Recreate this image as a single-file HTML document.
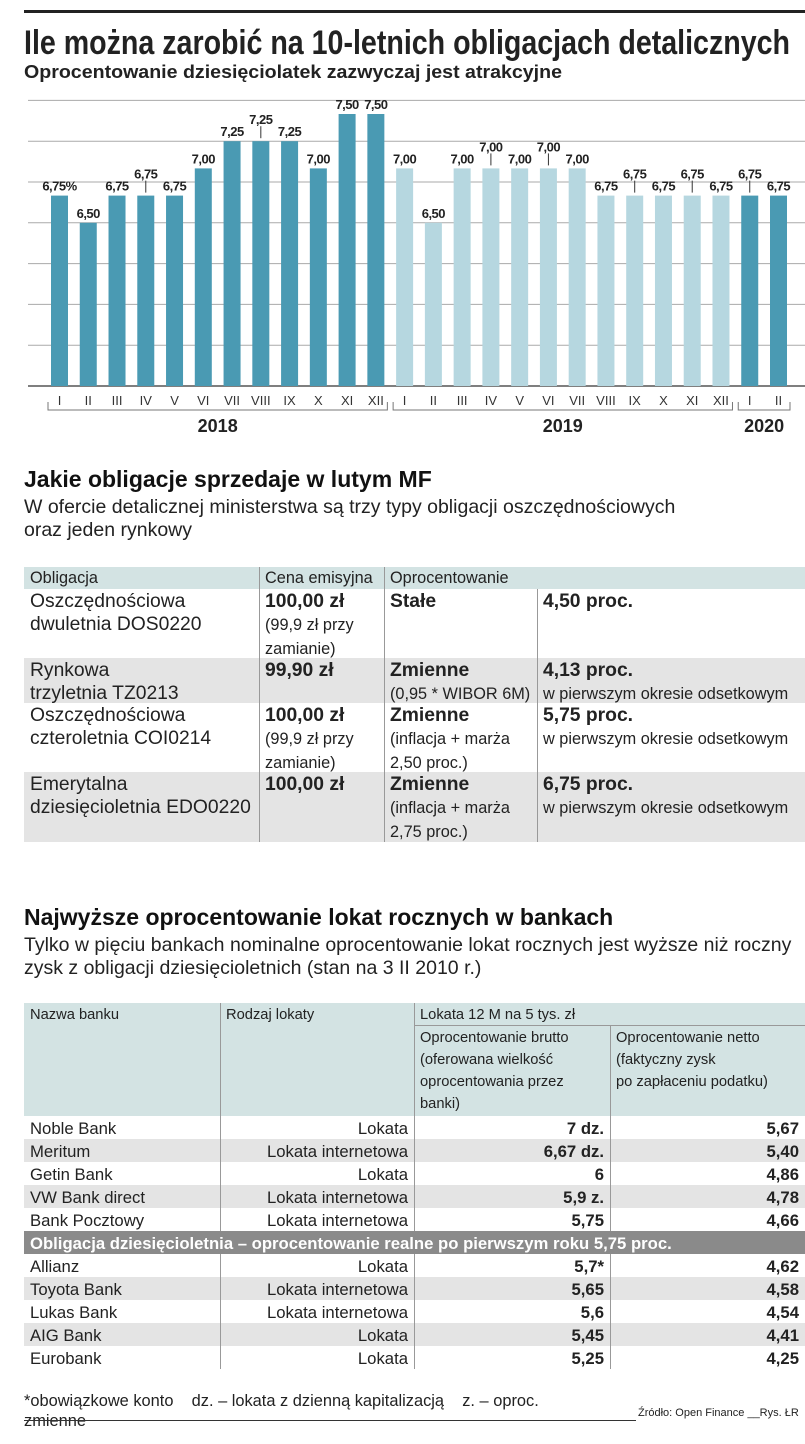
<!DOCTYPE html>
<html><head><meta charset="utf-8">
<style>
body{margin:0;background:#fff;width:805px;height:1444px;position:relative;overflow:hidden;font-family:"Liberation Sans Narrow","Liberation Sans",sans-serif;color:#222}
.a{position:absolute;white-space:nowrap}
.h{font-weight:bold;font-size:23px;color:#111}
.s{font-size:19.5px;line-height:23px}
.cell{position:absolute;box-sizing:border-box;padding:1px 6px;font-size:19.3px;line-height:23px;overflow:hidden;white-space:nowrap}
.t2 .cell{font-size:16.7px;line-height:23px}
.b{font-weight:bold}
.sm{font-size:16.3px}
.t2 .sm{font-size:14.7px}
.vl{position:absolute;width:1px;background:#999}
</style></head><body>
<svg id="chart" width="805" height="445" style="position:absolute;left:0;top:0" xmlns="http://www.w3.org/2000/svg">
<rect x="24" y="10" width="781" height="3" fill="#222"/>
<text x="24" y="54" font-size="34" font-weight="bold" fill="#222" textLength="766" lengthAdjust="spacingAndGlyphs" font-family="Liberation Sans Narrow, Liberation Sans, sans-serif">Ile można zarobić na 10-letnich obligacjach detalicznych</text>
<text x="24" y="78" font-size="18" font-weight="bold" fill="#222" textLength="538" lengthAdjust="spacingAndGlyphs" font-family="Liberation Sans Narrow, Liberation Sans, sans-serif">Oprocentowanie dziesięciolatek zazwyczaj jest atrakcyjne</text>
<g id="grid"></g><g id="bars"></g><g id="xaxis"></g>
</svg>

<div class="a h" style="left:24px;top:466px">Jakie obligacje sprzedaje w lutym MF</div>
<div class="a s" style="left:24px;top:496px">W ofercie detalicznej ministerstwa są trzy typy obligacji oszczędnościowych<br>oraz jeden rynkowy</div>

<div>
<div class="a" style="left:24px;top:567px;width:781px;height:22px;background:#d3e3e3"></div>
<div class="a" style="left:24px;top:658px;width:781px;height:45px;background:#e4e4e4"></div>
<div class="a" style="left:24px;top:772px;width:781px;height:70px;background:#e4e4e4"></div>
<div class="vl" style="left:259px;top:567px;height:275px"></div>
<div class="vl" style="left:384px;top:567px;height:275px"></div>
<div class="vl" style="left:537px;top:589px;height:253px"></div>
<div class="cell sm" style="left:24px;top:567px;line-height:21px">Obligacja</div>
<div class="cell sm" style="left:259px;top:567px;line-height:21px">Cena emisyjna</div>
<div class="cell sm" style="left:384px;top:567px;line-height:21px">Oprocentowanie</div>

<div class="cell" style="left:24px;top:589px">Oszczędnościowa<br>dwuletnia DOS0220</div>
<div class="cell" style="left:259px;top:589px"><span class="b">100,00 zł</span><br><span class="sm">(99,9 zł przy<br>zamianie)</span></div>
<div class="cell b" style="left:384px;top:589px">Stałe</div>
<div class="cell b" style="left:537px;top:589px">4,50 proc.</div>

<div class="cell" style="left:24px;top:658px">Rynkowa<br>trzyletnia TZ0213</div>
<div class="cell b" style="left:259px;top:658px">99,90 zł</div>
<div class="cell" style="left:384px;top:658px"><span class="b">Zmienne</span><br><span class="sm">(0,95 * WIBOR 6M)</span></div>
<div class="cell" style="left:537px;top:658px"><span class="b">4,13 proc.</span><br><span class="sm">w pierwszym okresie odsetkowym</span></div>

<div class="cell" style="left:24px;top:703px">Oszczędnościowa<br>czteroletnia COI0214</div>
<div class="cell" style="left:259px;top:703px"><span class="b">100,00 zł</span><br><span class="sm">(99,9 zł przy<br>zamianie)</span></div>
<div class="cell" style="left:384px;top:703px"><span class="b">Zmienne</span><br><span class="sm">(inflacja + marża<br>2,50 proc.)</span></div>
<div class="cell" style="left:537px;top:703px"><span class="b">5,75 proc.</span><br><span class="sm">w pierwszym okresie odsetkowym</span></div>

<div class="cell" style="left:24px;top:772px">Emerytalna<br>dziesięcioletnia EDO0220</div>
<div class="cell b" style="left:259px;top:772px">100,00 zł</div>
<div class="cell" style="left:384px;top:772px"><span class="b">Zmienne</span><br><span class="sm">(inflacja + marża<br>2,75 proc.)</span></div>
<div class="cell" style="left:537px;top:772px"><span class="b">6,75 proc.</span><br><span class="sm">w pierwszym okresie odsetkowym</span></div>
</div>

<div class="a h" style="left:24px;top:904px">Najwyższe oprocentowanie lokat rocznych w bankach</div>
<div class="a s" style="left:24px;top:934px">Tylko w pięciu bankach nominalne oprocentowanie lokat rocznych jest wyższe niż roczny<br>zysk z obligacji dziesięcioletnich (stan na 3 II 2010 r.)</div>

<div class="t2" id="t2">
<div class="a" style="left:24px;top:1003px;width:781px;height:113px;background:#d3e3e3"></div>
<div class="a" style="left:414px;top:1025px;width:391px;height:1px;background:#999"></div>
<div class="cell sm" style="left:24px;top:1003px">Nazwa banku</div>
<div class="cell sm" style="left:220px;top:1003px">Rodzaj lokaty</div>
<div class="cell sm" style="left:414px;top:1003px">Lokata 12 M na 5 tys. zł</div>
<div class="cell sm" style="left:414px;top:1026px;line-height:22px">Oprocentowanie brutto<br>(oferowana wielkość<br>oprocentowania przez<br>banki)</div>
<div class="cell sm" style="left:610px;top:1026px;line-height:22px">Oprocentowanie netto<br>(faktyczny zysk<br>po zapłaceniu podatku)</div>
</div>

<div class="a" style="left:24px;top:1391px;font-size:16.4px;line-height:20px">*obowiązkowe konto&nbsp;&nbsp;&nbsp; dz. – lokata z dzienną kapitalizacją&nbsp;&nbsp;&nbsp; z. – oproc.<br>zmienne</div>
<div class="a" style="left:24px;top:1420px;width:612px;height:1px;background:#333"></div>
<div class="a" style="left:638px;top:1407px;font-size:11px">Źródło: Open Finance __Rys. ŁR</div>

<script>
const categories=["I","II","III","IV","V","VI","VII","VIII","IX","X","XI","XII","I","II","III","IV","V","VI","VII","VIII","IX","X","XI","XII","I","II"];
const values=[6.75,6.50,6.75,6.75,6.75,7.00,7.25,7.25,7.25,7.00,7.50,7.50,7.00,6.50,7.00,7.00,7.00,7.00,7.00,6.75,6.75,6.75,6.75,6.75,6.75,6.75];
const valueLabels=["6,75%","6,50","6,75","6,75","6,75","7,00","7,25","7,25","7,25","7,00","7,50","7,50","7,00","6,50","7,00","7,00","7,00","7,00","7,00","6,75","6,75","6,75","6,75","6,75","6,75","6,75"];
const years=["2018","2019","2020"];
const yearStart=[0,12,24];
const yearEnd=[11,23,25];
const raised=[3,7,15,17,20,22,24];
const gridValues=[5,5.375,5.75,6.125,6.5,6.875,7.25,7.625];
const NS="http://www.w3.org/2000/svg";
const y=v=>386-(v-5)/0.25*27.2;
const x=i=>51+i*28.76;
const bw=17;
function mk(t,a,p){const e=document.createElementNS(NS,t);for(const k in a)e.setAttribute(k,a[k]);p.appendChild(e);return e;}
const g=document.getElementById('grid'),b=document.getElementById('bars'),xa=document.getElementById('xaxis');
gridValues.forEach(v=>{const l=mk('line',{x1:28,x2:805,y1:y(v),y2:y(v),stroke:v===5?'#555':'#aaa','stroke-width':v===5?1.5:1},g);

});
values.forEach((v,i)=>{const light=i>=12&&i<24;
const r=mk('rect',{x:x(i),y:y(v),width:bw,height:386-y(v),fill:light?'#b6d7e0':'#4a9ab3'},b);


const up=raised.includes(i);const ly=y(v)-5-(up?12:0);
const t=mk('text',{x:x(i)+bw/2,y:ly,'text-anchor':'middle','font-size':13,'font-weight':'bold','font-family':'Liberation Sans Narrow, Liberation Sans, sans-serif',fill:'#222','letter-spacing':'-0.5'},b);t.textContent=valueLabels[i];


if(up){const a=mk('line',{x1:x(i)+bw/2,x2:x(i)+bw/2,y1:ly+2,y2:y(v)-3,stroke:'#333','stroke-width':1},b);

}
const c=mk('text',{x:x(i)+bw/2,y:405,'text-anchor':'middle','font-size':13,'font-family':'Liberation Sans Narrow, Liberation Sans, sans-serif',fill:'#333'},xa);c.textContent=categories[i];

});
years.forEach((yr,k)=>{const x0=x(yearStart[k])-3,x1=x(yearEnd[k])+bw+3;
const p=mk('path',{d:`M${x0} 402 V410 H${x1} V402`,fill:'none',stroke:'#777','stroke-width':1},xa);


const t=mk('text',{x:(x0+x1)/2,y:432,'text-anchor':'middle','font-size':18,'font-weight':'bold','font-family':'Liberation Sans Narrow, Liberation Sans, sans-serif',fill:'#222'},xa);t.textContent=yr;

});

// deposits table
const banks=["Noble Bank","Meritum","Getin Bank","VW Bank direct","Bank Pocztowy",null,"Allianz","Toyota Bank","Lukas Bank","AIG Bank","Eurobank"];
const types=["Lokata","Lokata internetowa","Lokata","Lokata internetowa","Lokata internetowa",null,"Lokata","Lokata internetowa","Lokata internetowa","Lokata","Lokata"];
const brutto=["7 dz.","6,67 dz.","6","5,9 z.","5,75",null,"5,7*","5,65","5,6","5,45","5,25"];
const netto=["5,67","5,40","4,86","4,78","4,66",null,"4,62","4,58","4,54","4,41","4,25"];
const T=document.getElementById('t2');
function div(st,txt,cls){const d=document.createElement('div');d.className=cls||'cell';d.setAttribute('style',st);if(txt!=null)d.textContent=txt;T.appendChild(d);return d;}
banks.forEach((bk,i)=>{const top=1116+i*23;
if(bk===null){const d=div(`left:24px;top:${top}px;width:781px;height:23px;background:#8a8a8a;color:#fff;font-weight:bold`,'Obligacja dziesięcioletnia – oprocentowanie realne po pierwszym roku 5,75 proc.');

return;}
if(i%2===1){const bg=div(`left:24px;top:${top}px;width:781px;height:23px;background:#e4e4e4;padding:0`,null);

}
const c1=div(`left:24px;top:${top}px`,bk);


const c2=div(`left:220px;top:${top}px;width:194px;text-align:right`,types[i]);


const c3=div(`left:414px;top:${top}px;width:196px;text-align:right;font-weight:bold`,brutto[i]);


const c4=div(`left:610px;top:${top}px;width:195px;text-align:right;font-weight:bold`,netto[i]);

});
[[220,1003,228],[220,1254,115],[414,1003,228],[414,1254,115],[610,1025,206],[610,1254,115]].forEach(v=>{const l=div(`left:${v[0]}px;top:${v[1]}px;height:${v[2]}px`,null,'vl');

});
</script>
</body></html>
